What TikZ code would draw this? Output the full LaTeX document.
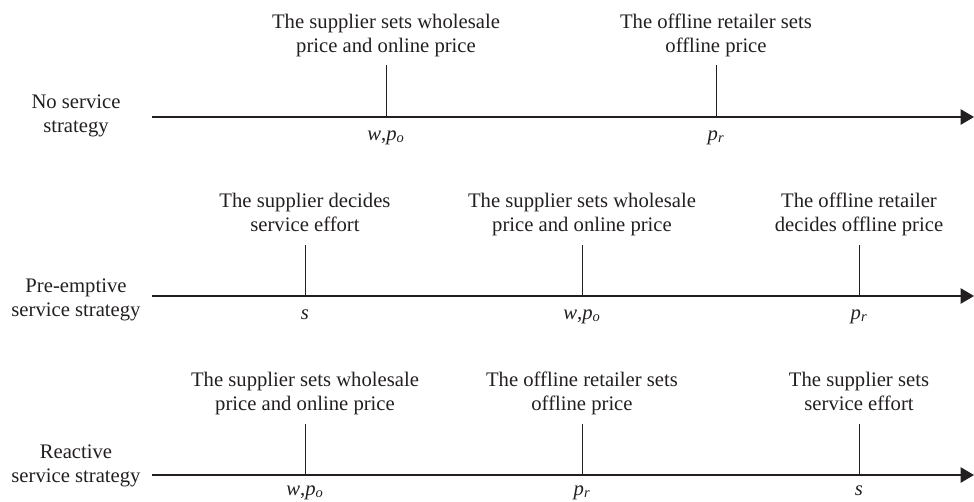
\documentclass[tikz,border=0pt]{standalone}
\usepackage{fontspec}
\setmainfont{Liberation Serif}
\usetikzlibrary{arrows.meta}
\definecolor{ink}{HTML}{231F20}
\newcommand{\twoline}[2]{\begin{tabular}[t]{@{}c@{}}#1\\#2\end{tabular}}
\begin{document}
\begin{tikzpicture}[x=0.75pt,y=-0.75pt,
  every node/.style={font=\fontsize{15.5}{18}\selectfont, text=ink, inner sep=0pt},
  txt/.style={anchor=base},
  axisline/.style={draw=ink, line width=1pt, -{Triangle[length=10pt,width=11.5pt]}},
  tickline/.style={draw=ink, line width=0.75pt}]
\useasboundingbox (0,0) rectangle (974,501);

% ---------- Row 1 ----------
\coordinate (s1) at (152,117);
\coordinate (e1) at (974,117);
\draw[axisline] (s1) -- (e1);
\node[txt] (l1) at (76,108) {\twoline{No service}{strategy}};
\coordinate (a11) at (386,117); \coordinate (t11) at (386,65);
\coordinate (a12) at (716,117); \coordinate (t12) at (716,65);
\draw[tickline] (t11) -- (a11);
\draw[tickline] (t12) -- (a12);
\node[txt] (d11) at (386,28) {\twoline{The supplier sets wholesale}{price and online price}};
\node[txt] (d12) at (716,28) {\twoline{The offline retailer sets}{offline price}};
\node[txt] (v11) at (386,140) {\textit{w},\textit{p}\textsubscript{\textit{o}}};
\node[txt] (v12) at (716,140) {\textit{p}\textsubscript{\textit{r}}};

% ---------- Row 2 ----------
\coordinate (s2) at (152,296);
\coordinate (e2) at (974,296);
\draw[axisline] (s2) -- (e2);
\node[txt] (l2) at (76,292) {\twoline{Pre-emptive}{service strategy}};
\coordinate (a21) at (305,296); \coordinate (t21) at (305,245);
\coordinate (a22) at (582,296); \coordinate (t22) at (582,245);
\coordinate (a23) at (859,296); \coordinate (t23) at (859,245);
\draw[tickline] (t21) -- (a21);
\draw[tickline] (t22) -- (a22);
\draw[tickline] (t23) -- (a23);
\node[txt] (d21) at (305,207) {\twoline{The supplier decides}{service effort}};
\node[txt] (d22) at (582,207) {\twoline{The supplier sets wholesale}{price and online price}};
\node[txt] (d23) at (859,207) {\twoline{The offline retailer}{decides offline price}};
\node[txt] (v21) at (305,319) {\textit{s}};
\node[txt] (v22) at (582,319) {\textit{w},\textit{p}\textsubscript{\textit{o}}};
\node[txt] (v23) at (859,319) {\textit{p}\textsubscript{\textit{r}}};

% ---------- Row 3 ----------
\coordinate (s3) at (152,475);
\coordinate (e3) at (974,475);
\draw[axisline] (s3) -- (e3);
\node[txt] (l3) at (76,458) {\twoline{Reactive}{service strategy}};
\coordinate (a31) at (305,475); \coordinate (t31) at (305,424);
\coordinate (a32) at (582,475); \coordinate (t32) at (582,424);
\coordinate (a33) at (859,475); \coordinate (t33) at (859,424);
\draw[tickline] (t31) -- (a31);
\draw[tickline] (t32) -- (a32);
\draw[tickline] (t33) -- (a33);
\node[txt] (d31) at (305,386) {\twoline{The supplier sets wholesale}{price and online price}};
\node[txt] (d32) at (582,386) {\twoline{The offline retailer sets}{offline price}};
\node[txt] (d33) at (859,386) {\twoline{The supplier sets}{service effort}};
\node[txt] (v31) at (305,495) {\textit{w},\textit{p}\textsubscript{\textit{o}}};
\node[txt] (v32) at (582,495) {\textit{p}\textsubscript{\textit{r}}};
\node[txt] (v33) at (859,495) {\textit{s}};
\end{tikzpicture}
\end{document}
